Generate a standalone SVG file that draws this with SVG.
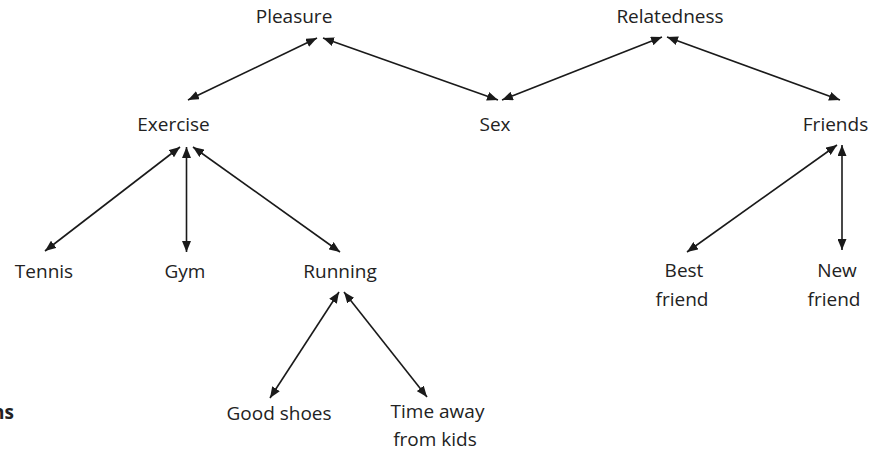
<svg xmlns="http://www.w3.org/2000/svg" width="876" height="454" viewBox="0 0 876 454">
<defs>
<marker id="ah" viewBox="0 0 11 9" refX="11" refY="4.5" markerWidth="11" markerHeight="9" markerUnits="userSpaceOnUse" orient="auto-start-reverse">
<path d="M0,0 L11,4.5 L0,9 z" fill="#1a1a1a"/>
</marker>
</defs>
<style>
text{font-family:"Open Sans","Noto Sans",sans-serif;font-size:19px;fill:#222;text-anchor:middle}
.c line{stroke:#1a1a1a;stroke-width:1.6;marker-start:url(#ah);marker-end:url(#ah)}
.b{font-weight:bold;text-anchor:end}
</style>
<rect width="876" height="454" fill="#fff"/>
<g class="c" id="connectors">
<line x1="317" y1="38" x2="188" y2="100"/>
<line x1="323" y1="38" x2="498" y2="100"/>
<line x1="662" y1="37" x2="502" y2="100"/>
<line x1="667" y1="37" x2="840" y2="100"/>
<line x1="180" y1="147" x2="45" y2="251"/>
<line x1="186.5" y1="147" x2="186.5" y2="252"/>
<line x1="193" y1="147" x2="340" y2="252"/>
<line x1="837" y1="145" x2="687" y2="252"/>
<line x1="842" y1="145" x2="842" y2="250"/>
<line x1="339" y1="292" x2="270" y2="398"/>
<line x1="344" y1="292" x2="427" y2="397"/>
</g>
<g id="pleasure"><text x="294" y="23">Pleasure</text></g>
<g id="relatedness"><text x="670" y="23">Relatedness</text></g>
<g id="exercise"><text x="173.5" y="131">Exercise</text></g>
<g id="sex"><text x="495" y="131">Sex</text></g>
<g id="friends"><text x="835.5" y="131">Friends</text></g>
<g id="tennis"><text x="44" y="278">Tennis</text></g>
<g id="gym"><text x="185" y="278">Gym</text></g>
<g id="running"><text x="340" y="278">Running</text></g>
<g id="best-friend"><text x="684" y="277">Best</text><text x="682" y="306">friend</text></g>
<g id="new-friend"><text x="837" y="277">New</text><text x="834" y="306">friend</text></g>
<g id="good-shoes"><text x="279" y="420">Good shoes</text></g>
<g id="time-away"><text x="437.5" y="418">Time away</text><text x="435" y="446">from kids</text></g>
<text class="b" x="14" y="419">ns</text>
</svg>
